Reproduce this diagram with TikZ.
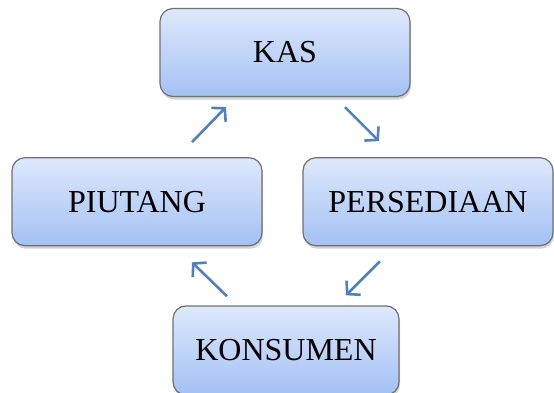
\documentclass[tikz,border=0pt]{standalone}
\usepackage{fontspec}
\setmainfont{Liberation Serif}
\usepackage{tikz}
\usetikzlibrary{positioning,shadows,arrows.meta}

\definecolor{boxtop}{HTML}{DEE8FB}
\definecolor{boxbottom}{HTML}{A3C1F5}
\definecolor{boxline}{HTML}{707070}
\definecolor{flowblue}{HTML}{4F81BD}

\tikzset{
  akun/.style={draw=boxline,line width=1.2pt,rounded corners=13pt,
    top color=boxtop,bottom color=boxbottom,
    minimum width=250pt,minimum height=88pt,inner sep=0pt,
    drop shadow={shadow xshift=1pt,shadow yshift=-3pt,opacity=0.35},
    font=\fontsize{32}{38}\selectfont},
  alur/.style={draw=flowblue,line width=2.6pt,
    -{Straight Barb[length=9pt,width=20pt]}}
}

\begin{document}
\begin{tikzpicture}[x=1pt,y=1pt]
              \clip (0,0) rectangle (554,392);
              \node[akun] (kas) at (285,339.5) {KAS};
              \node[akun,below=60pt of kas,xshift=-148pt] (piutang) {PIUTANG};
              \node[akun,below=60pt of kas,xshift=143pt] (persediaan) {PERSEDIAAN};
              \node[akun,below=59pt of piutang,xshift=149pt,minimum width=226pt,minimum height=89pt] (konsumen) {KONSUMEN};

              %siklus
              \draw[alur] ([shift={(55pt,15pt)}]piutang.north) -- ([shift={(-59pt,-10pt)}]kas.south);
              \draw[alur] ([shift={(60pt,-10pt)}]kas.south) -- ([shift={(-49pt,16pt)}]persediaan.north);
              \draw[alur] ([shift={(-48pt,-15pt)}]persediaan.south) -- ([shift={(60pt,10pt)}]konsumen.north);
              \draw[alur] ([shift={(-59pt,9pt)}]konsumen.north) -- ([shift={(55pt,-16pt)}]piutang.south);

            \end{tikzpicture}
\end{document}
